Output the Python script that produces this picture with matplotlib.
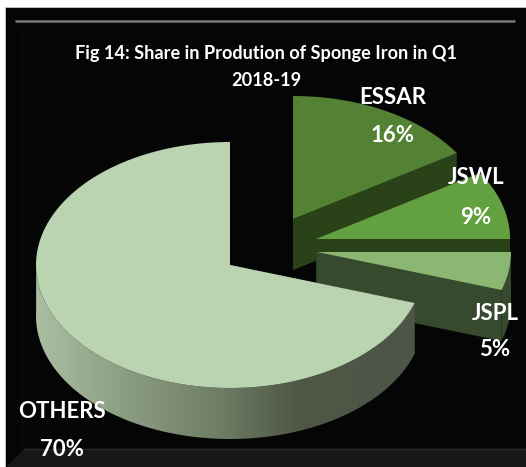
import numpy as np
import matplotlib
matplotlib.use("Agg")
import matplotlib.pyplot as plt
from matplotlib.patches import Polygon, Rectangle
from matplotlib.colors import LinearSegmentedColormap

categories = ["ESSAR", "JSWL", "JSPL", "OTHERS"]
shares = [16, 9, 5, 70]
title_lines = ["Fig 14: Share in Prodution of Sponge Iron in Q1", "2018-19"]

top_colors = ["#548235", "#63a03f", "#8ab873", "#bad3b0"]
side_colors = ["#2a4217", "#2a4217", "#374a2e", "#4d5548"]
apexes = [(293, 219), (316, 239), (317, 252), (230, 265)]
label_pos = [(393, 97, 135), (476, 178, 218), (495, 313, 350), (62, 411, 449)]
A, B, DEPTH = 194, 123, 51

plt.rcParams["font.family"] = ["Lato", "DejaVu Sans"]
fig = plt.figure(figsize=(5.26, 4.67), dpi=100, facecolor="white")
ax = fig.add_axes([0, 0, 1, 1])
ax.set_xlim(0, 526)
ax.set_ylim(467, 0)
ax.axis("off")

# frame with bevel
ax.add_patch(Rectangle((5, 7), 521, 460, fc="#050505", ec="#c8c8c8", lw=0.6, zorder=0))
ax.plot([15, 515], [20.5, 20.5], color="#555555", lw=2.2, zorder=0.2, solid_capstyle="butt")
ax.plot([15, 515], [20.5, 20.5], color="#808080", lw=0.8, zorder=0.21, solid_capstyle="butt")
ax.add_patch(Polygon([(7, 467), (526, 467), (526, 449), (24, 449)], fc="#171717", ec="none", zorder=0.1))
ax.plot([24, 526], [448.5, 448.5], color="#2b2b2b", lw=1, zorder=0.2)
ax.plot([22, 22], [30, 448], color="#0f0f0f", lw=1, zorder=0.2)


def rim(cx, cy, a0, a1, n=120):
    t = np.radians(np.linspace(a0, a1, n))
    return np.column_stack([cx + A * np.sin(t), cy - B * np.cos(t)])


edges = np.concatenate([[0], np.cumsum(shares)]) * 3.6
for i, (name, share) in enumerate(zip(categories, shares)):
    a0, a1 = edges[i], edges[i + 1]
    cx, cy = apexes[i]
    z = 1 + i
    arc = rim(cx, cy, a0, a1)
    apex = np.array([cx, cy])
    down = np.array([0, DEPTH])
    if i == 3:
        tip_front = arc[0]
        ax.add_patch(Polygon([apex, tip_front, tip_front + down, apex + down],
                             fc=side_colors[i], ec="none", zorder=z))
        vis = rim(cx, cy, a0, 272)
        outer = np.vstack([vis, (vis + down)[::-1]])
        xmin, xmax = 36, 420
        span = xmax - xmin
        cmap = LinearSegmentedColormap.from_list(
            "side",
            [(0, "#aabfa1"), (90 / span, "#8b9d82"), (180 / span, "#6f7f66"),
             (261 / span, "#4f5845"), (1, "#4d5548")])
        poly = Polygon(outer, fc="none", ec="none", zorder=z)
        ax.add_patch(poly)
        grad = np.linspace(0, 1, 512)[None, :]
        im = ax.imshow(grad, cmap=cmap, extent=(xmin, xmax, 467, 200), aspect="auto", zorder=z + 0.1)
        im.set_clip_path(poly)
        ax.set_xlim(0, 526)
        ax.set_ylim(467, 0)
    else:
        end = arc[-1]
        ax.add_patch(Polygon([apex, end, end + down, apex + down],
                             fc=side_colors[i], ec="none", zorder=z))
        if i > 0:
            ax.add_patch(Polygon(np.vstack([arc, (arc + down)[::-1]]),
                                 fc=side_colors[i], ec="none", zorder=z))
    ax.add_patch(Polygon(np.vstack([apex, arc]), fc=top_colors[i], ec="none", zorder=z + 0.5))
    lx, ly1, ly2 = label_pos[i]
    ax.text(lx, ly1, name, color="white", fontsize=16, fontweight="bold",
            ha="center", va="center", zorder=10)
    ax.text(lx, ly2, f"{share}%", color="white", fontsize=16, fontweight="bold",
            ha="center", va="center", zorder=10)

ax.text(266, 53, title_lines[0], color="white", fontsize=13.1, fontweight="bold",
        ha="center", va="center", zorder=10)
ax.text(266, 81, title_lines[1], color="white", fontsize=13.1, fontweight="bold",
        ha="center", va="center", zorder=10)

fig.savefig("out.png", dpi=100)
